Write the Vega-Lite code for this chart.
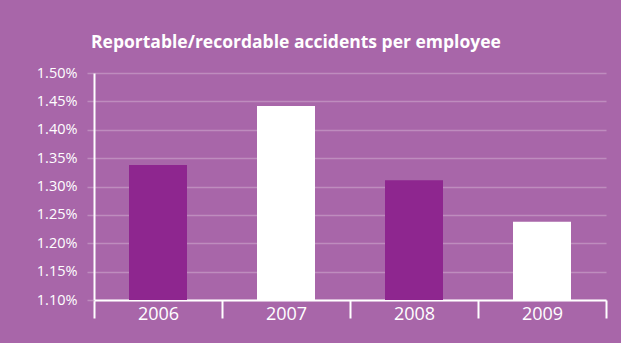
{
  "$schema": "https://vega.github.io/schema/vega-lite/v6.json",
  "width": 512,
  "height": 227,
  "autosize": {"type": "none"},
  "padding": {"left": 94, "top": 73, "right": 15, "bottom": 43},
  "background": "#A866A9",
  "title": {
    "text": "Reportable/recordable accidents per employee",
    "anchor": "start",
    "frame": "group",
    "color": "#FFFFFF",
    "font": "Open Sans",
    "fontSize": 17.5,
    "fontWeight": "bold",
    "dx": -3,
    "offset": 14
  },
  "data": {
    "values": [
      {"year": "2006", "rate": 0.01338, "tone": "dark"},
      {"year": "2007", "rate": 0.01442, "tone": "light"},
      {"year": "2008", "rate": 0.01311, "tone": "dark"},
      {"year": "2009", "rate": 0.01238, "tone": "light"}
    ]
  },
  "mark": {"type": "bar", "width": 58, "clip": true},
  "encoding": {
    "x": {
      "field": "year",
      "type": "nominal",
      "scale": {"paddingInner": 0, "paddingOuter": 0},
      "axis": {
        "title": null,
        "labelAngle": 0,
        "labelColor": "#FFFFFF",
        "labelFont": "Open Sans",
        "labelFontSize": 18,
        "labelPadding": -13,
        "labelBaseline": "top",
        "tickBand": "extent",
        "tickSize": 18,
        "tickColor": "#FFFFFF",
        "tickWidth": 2,
        "domainColor": "#FFFFFF",
        "domainWidth": 2
      }
    },
    "y": {
      "field": "rate",
      "type": "quantitative",
      "scale": {"domain": [0.011, 0.015], "zero": false, "nice": false},
      "axis": {
        "title": null,
        "values": [0.011, 0.0115, 0.012, 0.0125, 0.013, 0.0135, 0.014, 0.0145, 0.015],
        "format": ".2%",
        "labelColor": "#FFFFFF",
        "labelFont": "Open Sans",
        "labelFontSize": 14.5,
        "labelPadding": 10,
        "tickSize": 7,
        "tickColor": "#BE8CBE",
        "tickWidth": 1.5,
        "domainColor": "#FFFFFF",
        "domainWidth": 2,
        "grid": true,
        "gridColor": "#BE8CBE",
        "gridWidth": 1.5
      }
    },
    "color": {
      "field": "tone",
      "type": "nominal",
      "scale": {"domain": ["dark", "light"], "range": ["#8E268F", "#FFFFFF"]},
      "legend": null
    }
  },
  "config": {"view": {"stroke": null}}
}
